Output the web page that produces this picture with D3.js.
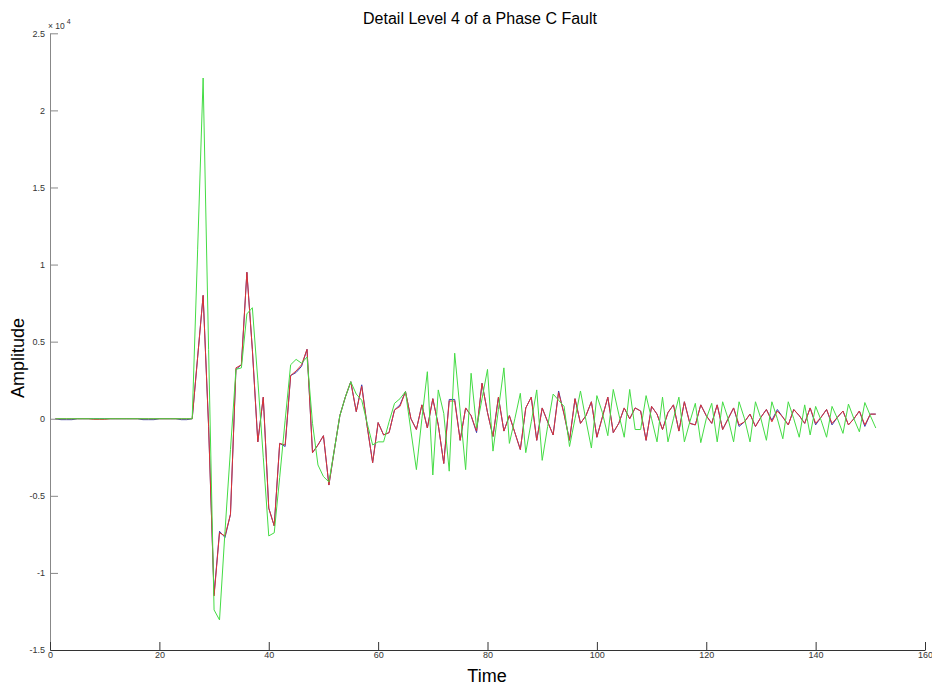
<!DOCTYPE html>
<html>
<head>
<meta charset="utf-8">
<script src="https://cdn.jsdelivr.net/npm/d3@7"></script>
<style>
body { margin: 0; background: #fff; }
svg text { font-family: "Liberation Sans", Arial, sans-serif; }
</style>
</head>
<body>
<script>
var width = 932;
var height = 688;

var title = 'Detail Level 4 of a Phase C Fault';
var xTicks = [0, 20, 40, 60, 80, 100, 120, 140, 160];
var yTicks = [-15000, -10000, -5000, 0, 5000, 10000, 15000, 20000, 25000];

// samples 1..151
var time = d3.range(1, 152);

var red = [
	0, 0, 0, 0, 0, 0, 0, -40, -40, -40, 0, 0, 0, 0, 0, 0, 0, 0, 0, 0, 0, 0, 0, 0, 0,
	0, 4000, 8000, -500, -11500, -7400, -7600, -6200, 3300, 3500, 9500, 4500, -1500, 1400, -5800,
	-6950, -1600, -1700, 2800, 3100, 3500, 4500, -2200, -1700, -1100, -4300, -2000, 200, 1400, 2400,
	460, 2100, -500, -2850, -250, -1050, -900, 570, 800, 1760, 0, -700, 900, -600, 1300,
	-400, -2900, 1150, 1150, -1400, 700, 200, -800, 2300, 400, -1150, 1400, -800, 200, -900,
	-2000, 700, 1400, -1400, 700, -200, -1050, 1700, 300, -1400, 1300, -300, 200, 1100, -1200,
	100, 1400, -900, -300, 700, 0, 700, 500, -1400, 800, 300, -700, 400, 900, -800,
	1100, -300, -400, 900, 200, -300, 900, -700, 0, 700, -400, -200, 300, -500, 100,
	600, -200, 500, 100, -400, 600, 200, -300, 700, -300, 100, 600, -300, 100, 500,
	-400, 0, 500, -400, 300, 300
];

var blue = [
	0, -60, -60, -60, 0, 0, 0, 0, 0, 0, 0, 0, 0, 0, 0, 0, -60, -60, -60, 0, 0, 0, 0, -60, -60,
	0, 4000, 8000, -500, -11400, -7300, -7700, -6200, 3200, 3500, 9500, 4500, -1500, 1400, -5800,
	-6950, -1600, -1800, 2800, 3000, 3400, 4500, -2200, -1700, -1100, -4300, -2000, 200, 1400, 2400,
	460, 2200, -500, -2850, -250, -1050, -900, 570, 900, 1760, 0, -700, 900, -600, 1300,
	-400, -2900, 1250, 1250, -1400, 700, 200, -900, 2300, 400, -1150, 1400, -800, 200, -900,
	-2000, 700, 1400, -1400, 700, -200, -1050, 1800, 300, -1400, 1300, -300, 200, 1100, -1200,
	100, 1400, -900, -300, 700, 0, 700, 500, -1400, 800, 300, -700, 400, 900, -800,
	1100, -300, -400, 900, 200, -300, 900, -700, 0, 700, -500, -200, 300, -500, 100,
	600, -100, 600, 100, -400, 600, 200, -300, 700, -400, 100, 600, -400, 100, 500,
	-400, 0, 500, -500, 300, 300
];

var green = [
	0, 0, 0, 0, 0, 0, 0, 0, 0, 0, 0, 0, 0, 0, 0, 0, 0, 0, 0, 0, 0, 0, 0, 0, 0,
	0, 11000, 22100, 4500, -12400, -13050, -7300, -2000, 3200, 3300, 6800, 7200, 2500, -2500, -7600,
	-7400, -3800, -100, 3500, 3850, 3600, 4000, -300, -3000, -3750, -4100, -2000, 200, 1400, 2400,
	1600, 1200, -300, -1700, -1500, -1500, -200, 1000, 1300, 1760, -800, -3300, 0, 3050, -3650,
	1870, 350, -3400, 4250, 500, -3300, 2950, -600, 1300, 3200, -2100, 600, 3300, -1600, 0,
	1650, -2200, -200, 1870, -2700, -500, 1600, 1200, 800, -1800, 0, 1800, -100, -1900, 1500,
	400, -1100, 1900, 300, -1200, 1900, -700, -700, 1500, 0, -1500, 1400, -1500, 0, 1400,
	-1500, -200, 1000, -1550, 0, 1000, -1500, 1100, 0, -1500, 1100, 0, -1500, 1100, 0,
	-1400, 1100, 0, -1300, 1100, 0, -1200, 900, -1050, 800, -100, -1200, 800, 0, -950,
	950, 0, -850, 1050, 200, -600
];

var canvas = d3.select('body')
				.append('svg')
				.attr('width', width)
				.attr('height', height);

var xScale = d3.scaleLinear().domain([0, 160]).range([50, 925]);
var yScale = d3.scaleLinear().domain([-15000, 25000]).range([650, 33.3]);

var line = d3.line()
			.x((d, i) => xScale(time[i]))
			.y((d) => yScale(d));

// blue under red, green on top
[[blue, '#3a3ab0'], [red, '#dc3434'], [green, '#44dc44']].forEach(function(s){
	canvas.append('path')
			.datum(s[0])
			.attr('d', line)
			.attr('fill', 'none')
			.attr('stroke', s[1])
			.attr('stroke-width', 1);
});

var yAxis = canvas.append('g')
			.attr('transform', 'translate(50,0)')
			.call(d3.axisLeft(yScale).tickValues(yTicks)
				.tickSizeInner(-8).tickSizeOuter(0).tickPadding(5)
				.tickFormat((d) => String(d / 10000)));
yAxis.select('.domain').attr('stroke', '#888');
yAxis.selectAll('line').attr('stroke', '#888');
yAxis.selectAll('text').attr('font-size', 9).attr('fill', '#333')
	.style('font-family', '"Liberation Sans", Arial, sans-serif');

var xAxis = canvas.append('g')
			.attr('transform', 'translate(0,650)')
			.call(d3.axisBottom(xScale).tickValues(xTicks)
				.tickSizeInner(-8).tickSizeOuter(0).tickPadding(2));
xAxis.select('.domain').attr('stroke', '#333');
xAxis.selectAll('line').attr('stroke', '#333');
xAxis.selectAll('text').attr('font-size', 9).attr('fill', '#333')
	.style('font-family', '"Liberation Sans", Arial, sans-serif');

// exponent label
var expo = canvas.append('text')
			.attr('x', 48)
			.attr('y', 29)
			.attr('font-size', 8.5)
			.attr('fill', '#333');
expo.append('tspan').text('\u00d7 10');
expo.append('tspan').attr('dy', -5).attr('dx', 2).attr('font-size', 7).text('4');

canvas.append('text')
		.attr('x', 480)
		.attr('y', 24)
		.attr('text-anchor', 'middle')
		.attr('font-size', 16)
		.text(title);

canvas.append('text')
		.attr('x', 487)
		.attr('y', 682)
		.attr('text-anchor', 'middle')
		.attr('font-size', 18)
		.text('Time');

canvas.append('text')
		.attr('transform', 'translate(24,358) rotate(-90)')
		.attr('text-anchor', 'middle')
		.attr('font-size', 18)
		.text('Amplitude');
</script>
</body>
</html>
